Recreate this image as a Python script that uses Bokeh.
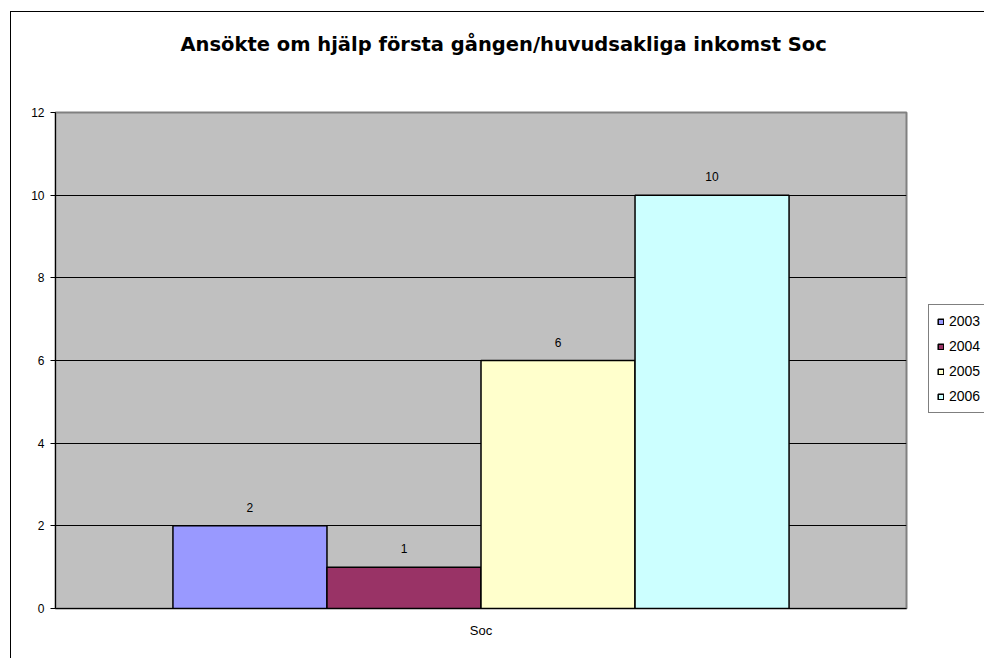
from bokeh.plotting import figure
from bokeh.layouts import row
from bokeh.models import (ColumnDataSource, FactorRange, Legend, LegendItem, SingleIntervalTicker, Title)
from bokeh.transform import dodge
from bokeh.embed import file_html
from bokeh.resources import INLINE
from bokeh.core.properties import value

title_text = "Ansökte om hjälp första gången/huvudsakliga inkomst Soc"
categories = ["Soc"]
years = ["2003", "2004", "2005", "2006"]
values = [2, 1, 6, 10]
colors = ["#9999FF", "#993366", "#FFFFCC", "#CCFFFF"]

FONT = "Liberation Sans"

p = figure(
    x_range=FactorRange(factors=categories, range_padding=0),
    y_range=(0, 12),
    width=897, height=646,
    output_backend="svg", toolbar_location=None,
    min_border_left=44, min_border_top=100, min_border_right=2, min_border_bottom=50,
    background_fill_color="#C0C0C0", border_fill_color="white",
)

# empty spacer panel between the title and the plot area
p.add_layout(Title(text=" ", text_font_size="1px", standoff=49), "above")

p.title.text = title_text
p.title.align = "left"
p.title.offset = 125
p.title.text_font = "DejaVu Sans"
p.title.text_font_size = "19.5px"
p.title.text_font_style = "bold"
p.title.text_color = "black"
p.title.standoff = 10

p.outline_line_color = "#808080"
p.outline_line_width = 2

bar_w = 0.181
sources = []
for i, (yr, v, c) in enumerate(zip(years, values, colors)):
    src = ColumnDataSource(dict(cat=categories, val=[v], lab=[str(v)]))
    sources.append(src)
    off = (i - (len(years) - 1) / 2) * bar_w
    p.vbar(x=dodge("cat", off, range=p.x_range), top="val", width=bar_w, source=src,
           fill_color=c, line_color="black", line_width=1.5)
    p.text(x=dodge("cat", off, range=p.x_range), y="val", text="lab", source=src,
           text_align="center", text_baseline="bottom", y_offset=-14,
           text_font=value(FONT), text_font_size="12px", text_color="black")

p.yaxis.ticker = SingleIntervalTicker(interval=2)
p.ygrid.ticker = SingleIntervalTicker(interval=2)
p.ygrid.grid_line_color = "black"
p.ygrid.grid_line_width = 1
p.xgrid.grid_line_color = None

for ax in (p.xaxis, p.yaxis):
    ax.axis_line_color = "black"
    ax.axis_line_width = 1
    ax.major_label_text_font = FONT
    ax.major_label_text_font_size = "12px"
    ax.major_label_text_color = "black"
    ax.minor_tick_line_color = None
    ax.major_tick_line_color = "black"

p.yaxis.major_tick_out = 5
p.yaxis.major_tick_in = 0
p.yaxis.major_label_standoff = 6
p.xaxis.major_tick_out = 0
p.xaxis.major_tick_in = 0
p.xaxis.major_label_standoff = 14
p.xaxis.major_label_text_font_size = "13px"

# legend panel to the right of the plot area
p2 = figure(width=76, height=646, x_range=FactorRange(factors=categories), y_range=(0, 12),
            output_backend="svg", toolbar_location=None, min_border=0,
            background_fill_color="white", border_fill_color="white")
p2.axis.visible = False
p2.grid.visible = False
p2.outline_line_color = None

items = []
for yr, c, src in zip(years, colors, sources):
    r = p2.vbar(x="cat", top="val", width=0.5, source=src, visible=False,
                fill_color=c, line_color="black", line_width=1.5)
    items.append(LegendItem(label=yr, renderers=[r]))

legend = Legend(items=items, location=(20, 195), orientation="vertical", margin=0,
                label_text_font=FONT, label_text_font_size="14px", label_text_color="black",
                glyph_width=7, glyph_height=7, label_height=14, spacing=9,
                padding=8, label_standoff=5,
                border_line_color="black", border_line_width=1,
                background_fill_color="white", background_fill_alpha=1)
p2.add_layout(legend, "center")

layout = row(p, p2, spacing=0)
layout.styles = {"border-left": "1px solid black", "border-top": "1px solid black",
                 "margin-left": "10px", "margin-top": "11px"}

open("out.html", "w").write(file_html(layout, INLINE))
